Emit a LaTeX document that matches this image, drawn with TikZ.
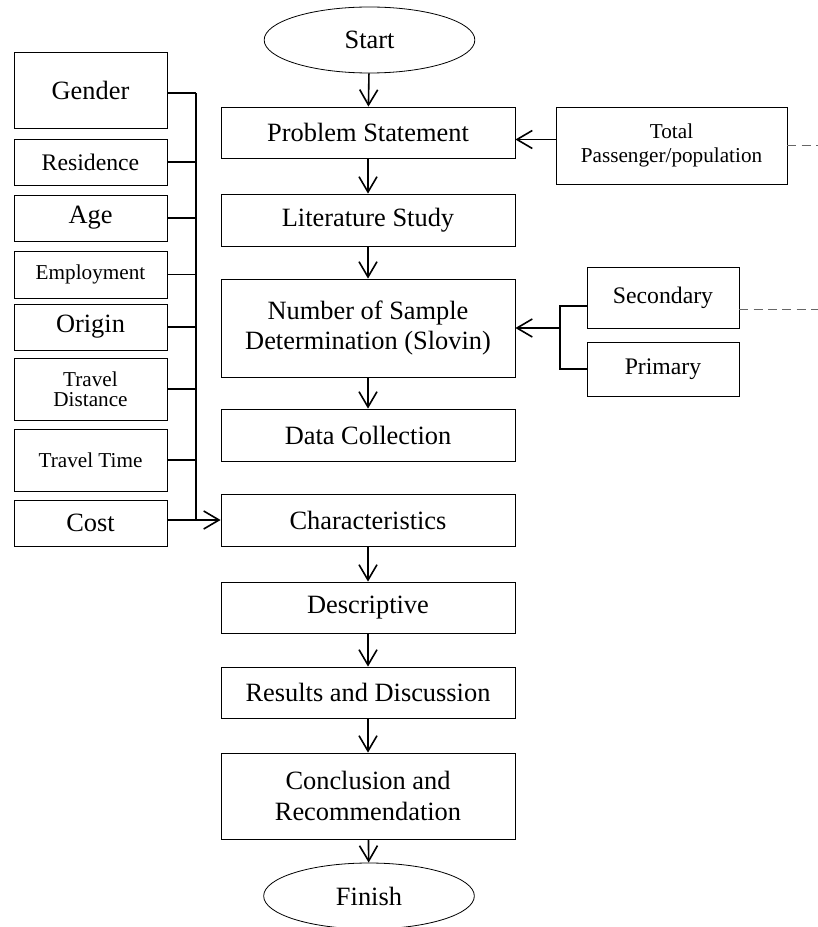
\documentclass[tikz,border=0pt]{standalone}
\usepackage{fontspec}
\setmainfont{Liberation Serif}
\usetikzlibrary{arrows.meta,shapes.geometric}
\newcommand\fbig{\fontsize{19.8}{23}\selectfont}
\newcommand\fmid{\fontsize{17.8}{21}\selectfont}
\newcommand\fsmall{\fontsize{15.9}{18}\selectfont}
\tikzset{
	box/.style={draw, line width=0.6pt, minimum width=220.5pt, align=center, inner sep=2pt, font=\fbig},
	sidebox/.style={draw, line width=0.6pt, minimum width=114.75pt, align=center, inner sep=2pt},
	oval/.style={draw, ellipse, line width=0.6pt, minimum width=158pt, minimum height=49.5pt, inner sep=0pt, font=\fbig},
	conn/.style={line width=1.2pt},
	arr/.style={line width=1.2pt, -{Straight Barb[length=11.5pt,width=13.5pt]}},
	link/.style={line width=1.2pt, color=black!60, dash pattern=on 6.75pt off 4pt}
}

\begin{document}
\begin{tikzpicture}[x=0.75pt, y=-0.75pt]
			%%%%% START %%%%%
			\useasboundingbox (0, 0) rectangle (817, 927);
			
			\node[oval] (start) at (369.5, 40) {Start};
			\node[box, minimum height=38.25pt] (prob) at (368, 132.5) {Problem Statement};
			\node[box, minimum height=39pt] (lit) at (368, 220) {Literature Study};
			\node[box, minimum height=73.5pt] (num) at (368, 328) {\fontsize{19.8}{22.5}\selectfont Number of Sample\\ Determination (Slovin)};
			\node[box, minimum height=39pt] (data) at (368, 435) {Data Collection};
			\node[box, minimum height=39pt] (char) at (368, 520) {Characteristics};
			\node[box, minimum height=38.25pt] (desc) at (368, 607.5) {Descriptive};
			\node[box, minimum height=38.25pt] (res) at (368, 692.5) {Results and Discussion};
			\node[box, minimum height=64.5pt] (conc) at (368, 796) {Conclusion and\\ Recommendation};
			\node[oval] (finish) at (369, 896) {Finish};
			
			\draw[arr] (start) -- (prob);
			\draw[arr] (prob) -- (lit);
			\draw[arr] (lit) -- (num);
			\draw[arr] (num) -- (data);
			\draw[arr] (char) -- (desc);
			\draw[arr] (desc) -- (res);
			\draw[arr] (res) -- (conc);
			\draw[arr] (conc) -- (finish);
			
			\node[sidebox, minimum height=57pt, font=\fbig] (gender) at (90.5, 90) {Gender};
			\node[sidebox, minimum height=34.5pt, font=\fmid] (resid) at (90.5, 162) {Residence};
			\node[sidebox, minimum height=34.5pt, font=\fbig] (age) at (90.5, 218) {Age};
			\node[sidebox, minimum height=35.25pt, font=\fsmall] (employ) at (90.5, 274.5) {Employment};
			\node[sidebox, minimum height=34.5pt, font=\fbig] (origin) at (90.5, 327) {Origin};
			\node[sidebox, minimum height=46.5pt, font=\fontsize{15.9}{15}\selectfont] (tdist) at (90.5, 389) {Travel\\ Distance};
			\node[sidebox, minimum height=46.5pt, font=\fsmall] (ttime) at (90.5, 460) {Travel Time};
			\node[sidebox, minimum height=34.5pt, font=\fbig] (cost) at (90.5, 523) {Cost};
			
			\coordinate (bus) at (196, 93);
			\draw[conn] (bus) -- (bus |- char.west);
			\draw[conn] (gender.east |- bus) -- (bus);
			\draw[conn] (resid.east) -- (resid.east -| bus);
			\draw[conn] (age.east) -- (age.east -| bus);
			\draw[conn] (employ.east) -- (employ.east -| bus);
			\draw[conn] (origin.east) -- (origin.east -| bus);
			\draw[conn] (tdist.east) -- (tdist.east -| bus);
			\draw[conn] (ttime.east) -- (ttime.east -| bus);
			\draw[arr] (cost.east |- char.west) -- (char.west);
			
			\node[sidebox, minimum width=173.25pt, minimum height=57.75pt, font=\fsmall] (total) at (671.5, 145.5) {Total\\ Passenger/population};
			\node[sidebox, minimum width=114pt, minimum height=45.75pt, font=\fmid] (sec) at (663, 297.5) {Secondary};
			\node[sidebox, minimum width=114pt, minimum height=40.5pt, font=\fmid] (pri) at (663, 369) {Primary};
			
			\draw[arr] ([yshift=4.5pt]total.west) -- ([yshift=4.5pt]total.west -| prob.east);
			\coordinate (brk) at (560, 328);
			\draw[conn] ([yshift=-6.5pt]sec.west) -| (brk |- pri.west) -- (pri.west);
			\draw[arr] (brk |- num.east) -- (num.east);
			
			\coordinate (edge) at (830, 0);
			\draw[link] (total.east) -- (total.east -| edge);
			\draw[link] ([yshift=-9pt]sec.east) -- ([yshift=-9pt]sec.east -| edge);
			
			%%%%% END %%%%%
\end{tikzpicture}
\end{document}
